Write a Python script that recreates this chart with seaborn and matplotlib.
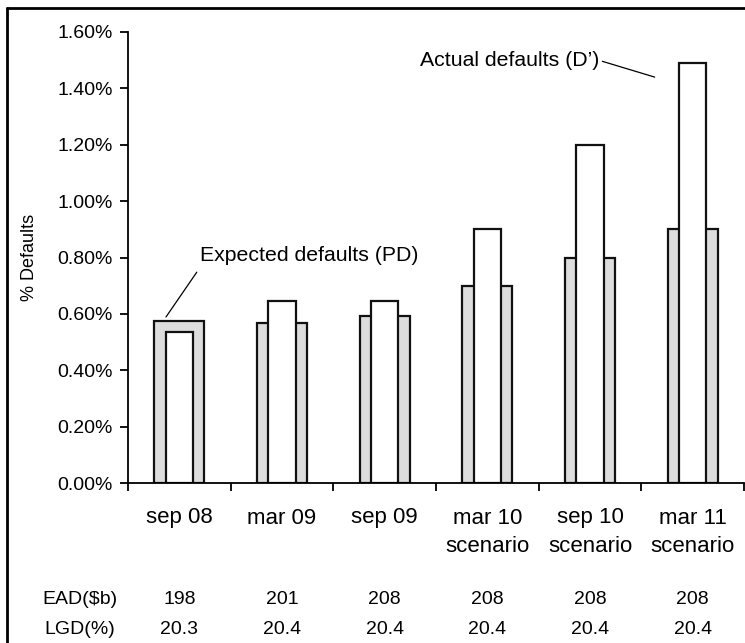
import numpy as np
import pandas as pd
import matplotlib
matplotlib.use("Agg")
import matplotlib.pyplot as plt
from matplotlib.lines import Line2D
from matplotlib.ticker import PercentFormatter
from matplotlib.transforms import blended_transform_factory
import seaborn as sns

# Reporting periods and default rates (% of exposure)
periods = ["sep 08", "mar 09", "sep 09",
           "mar 10\nscenario", "sep 10\nscenario", "mar 11\nscenario"]
expected_pd = [0.573, 0.567, 0.592, 0.70, 0.80, 0.90]
actual_d = [0.535, 0.645, 0.645, 0.90, 1.20, 1.49]

# Table rows under the chart
ead_bn = ["198", "201", "208", "208", "208", "208"]
lgd_pct = ["20.3", "20.4", "20.4", "20.4", "20.4", "20.4"]
row_names = ["EAD($b)", "LGD(%)"]

y_ticks = [0.0, 0.2, 0.4, 0.6, 0.8, 1.0, 1.2, 1.4, 1.6]

sns.set_style("white")
plt.rcParams["font.family"] = ["Liberation Sans", "DejaVu Sans"]

W, H = 745, 643
fig = plt.figure(figsize=(W / 100, H / 100), dpi=100)
ax = fig.add_axes([128 / W, 160 / H, 616 / W, 451 / H])

df = pd.DataFrame({"period": periods, "pd": expected_pd, "d": actual_d})

edge = "#111111"
sns.barplot(data=df, x="period", y="pd", color="#dddddd", saturation=1,
            width=0.49, edgecolor=edge, linewidth=1.6, ax=ax)
sns.barplot(data=df, x="period", y="d", color="white", saturation=1,
            width=0.265, edgecolor=edge, linewidth=1.6, ax=ax)

ax.set_xlim(-0.5, len(periods) - 0.5)
ax.set_ylim(0, 1.6)
ax.set_yticks(y_ticks)
ax.yaxis.set_major_formatter(PercentFormatter(xmax=100, decimals=2))
ax.set_xticks(np.arange(-0.5, len(periods)))
ax.set_xticklabels([])
ax.set_xlabel("")

for side in ("top", "right"):
    ax.spines[side].set_visible(False)
for side in ("left", "bottom"):
    ax.spines[side].set_color("black")
    ax.spines[side].set_linewidth(1.3)

ax.tick_params(axis="both", direction="out", length=6, width=1.3,
               color="black", left=True, bottom=True, labelsize=14,
               labelcolor="black", pad=5)

ax.set_ylabel("% Defaults", fontsize=13, color="black")
ax.yaxis.set_label_coords(-90 / 616, 0.5)

# Category labels (two lines for scenario periods)
lab_tr = blended_transform_factory(ax.transData, fig.transFigure)
for i, lab in enumerate(periods):
    for j, line in enumerate(lab.split("\n")):
        ax.text(i, 1 - (518 + 29 * j) / H, line, transform=lab_tr,
                ha="center", va="center", fontsize=16, color="black")

# Exposure / loss-given-default rows
for name, vals, ypix in zip(row_names, [ead_bn, lgd_pct], [599, 630]):
    fig.text(80 / W, 1 - ypix / H, name, ha="center", va="center",
             fontsize=14, color="black")
    for i, v in enumerate(vals):
        ax.text(i, 1 - ypix / H, v, transform=lab_tr, ha="center",
                va="center", fontsize=14, color="black")

# Callouts
ax.text(0.20, 0.808, "Expected defaults (PD)", ha="left", va="center",
        fontsize=15.3, color="black", clip_on=False)
ax.plot([0.17, -0.13], [0.748, 0.589], color="black", lw=0.9,
        clip_on=False)
ax.text(2.344, 1.50, "Actual defaults (D\u2019)", ha="left", va="center",
        fontsize=15.3, color="black", clip_on=False)
ax.plot([4.12, 4.63], [1.496, 1.44], color="black", lw=0.9, clip_on=False)

# Frame lines along the left and top of the figure
fig.add_artist(Line2D([7 / W, 7 / W], [0, 1 - 8 / H],
                      transform=fig.transFigure, color="black", lw=2))
fig.add_artist(Line2D([7 / W, 1], [1 - 8 / H, 1 - 8 / H],
                      transform=fig.transFigure, color="black", lw=2))

fig.savefig("out.png", dpi=100)
